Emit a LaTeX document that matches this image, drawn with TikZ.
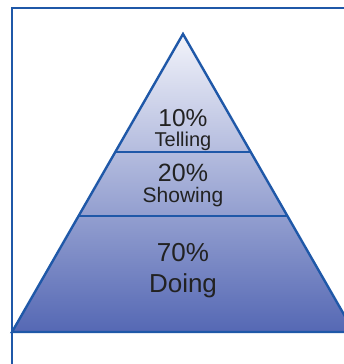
\documentclass[tikz,border=0pt]{standalone}
\usepackage{fontspec}
\setmainfont{Liberation Sans}
\begin{document}
\begin{tikzpicture}[x=1pt,y=-1pt,
  edge/.style={draw=pyrline,line width=2.4pt,line join=miter},
  frameline/.style={draw=pyrline,line width=2.6pt},
  label/.style={text=labelgray,inner sep=0pt,anchor=base}]
\definecolor{pyrline}{HTML}{1F58A8}
\definecolor{pyrtop}{HTML}{F2F3FA}
\definecolor{pyrbottom}{HTML}{5568B4}
\definecolor{labelgray}{HTML}{222222}
\useasboundingbox (0,0) rectangle (344,364);
\clip (0,0) rectangle (344,364);
% pyramid corners and tier boundaries
\coordinate (apex) at (183,34);
\coordinate (bl) at (12,332);
\coordinate (br) at (354,332);
\coordinate (t1l) at (115.3,152);
\coordinate (t1r) at (250.7,152);
\coordinate (t2l) at (78.6,216);
\coordinate (t2r) at (287.4,216);
% shaded body
\shade[top color=pyrtop,bottom color=pyrbottom] (apex) -- (br) -- (bl) -- cycle;
\draw[edge] (apex) -- (br) -- (bl) -- cycle;
\draw[edge] (t1l) -- (t1r);
\draw[edge] (t2l) -- (t2r);
% frame
\coordinate (fc) at (12,8);
\coordinate (fbottom) at (12,370);
\coordinate (fright) at (350,8);
\draw[frameline] (fbottom) -- (fc) -- (fright);
% tier labels
\node[label,font=\fontsize{24.5}{24.5}\selectfont] (p10) at (183,126) {10\%};
\node[label,font=\fontsize{20}{20}\selectfont] (tell) at (183,146.5) {Telling};
\node[label,font=\fontsize{25}{25}\selectfont] (p20) at (183,181.5) {20\%};
\node[label,font=\fontsize{21}{21}\selectfont] (show) at (183,202.5) {Showing};
\node[label,font=\fontsize{26}{26}\selectfont] (p70) at (183,261.7) {70\%};
\node[label,font=\fontsize{26}{26}\selectfont] (doing) at (183,292.7) {Doing};
\end{tikzpicture}
\end{document}
